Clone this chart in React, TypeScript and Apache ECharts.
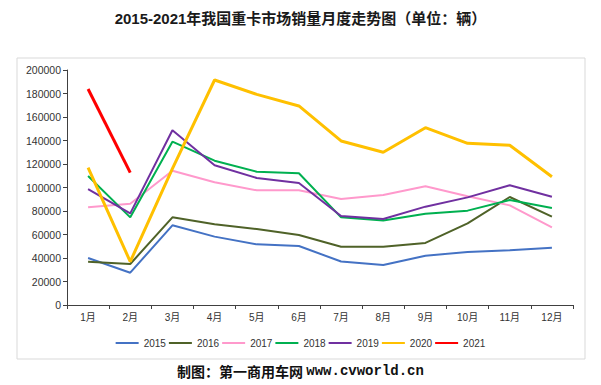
import React, { useEffect, useRef } from "react";
import * as echarts from "echarts";

const months = ["1月", "2月", "3月", "4月", "5月", "6月", "7月", "8月", "9月", "10月", "11月", "12月"];
const years = ["2015", "2016", "2017", "2018", "2019", "2020", "2021"];
const s2015 = [40000, 27500, 67800, 58200, 51600, 50200, 37000, 34000, 42000, 45100, 46500, 48800];
const s2016 = [36900, 34900, 74600, 68700, 64700, 59600, 49600, 49600, 52800, 69500, 91900, 75200];
const s2017 = [83100, 86200, 114300, 104400, 97600, 97600, 90200, 93600, 101000, 92500, 84800, 66100];
const s2018 = [109800, 74600, 139000, 122800, 113400, 112100, 74600, 72000, 77700, 80300, 89400, 82600];
const s2019 = [98700, 78000, 148700, 118900, 108100, 103800, 75700, 73200, 83700, 91600, 101900, 92200];
const s2020 = [116900, 36900, 116000, 191500, 179300, 169400, 139600, 130000, 150900, 137600, 135900, 109200];
const s2021 = [183800, 112600];
const seriesData = [s2015, s2016, s2017, s2018, s2019, s2020, s2021];
const colors = ["#4472c4", "#4f6228", "#ff99cc", "#00b050", "#7030a0", "#ffc000", "#ff0000"];
const widths = [2, 2, 2, 2, 2, 3, 3];

export default function App() {
  const ref = useRef<HTMLDivElement>(null);
  useEffect(() => {
    document.body.style.margin = "0";
    const chart = echarts.init(ref.current!, null, { renderer: "svg" });
    chart.setOption({
      animation: false,
      backgroundColor: "#ffffff",
      textStyle: { fontFamily: "Liberation Sans, Noto Sans CJK SC, sans-serif" },
      title: {
        text: "2015-2021年我国重卡市场销量月度走势图（单位：辆）",
        left: "center",
        top: 6,
        textStyle: { fontSize: 15, fontWeight: "bold", color: "#1a1a1a", fontFamily: "Liberation Sans, Noto Sans CJK SC, sans-serif" },
      },
      graphic: [
        { type: "rect", shape: { x: 17, y: 58, width: 568, height: 301 }, style: { fill: "none", stroke: "#d9d9d9", lineWidth: 1 }, z: -1 },
        {
          type: "text",
          left: "center",
          top: 364,
          style: {
            text: "{a|制图：第一商用车网 }{b|www.cvworld.cn}",
            rich: {
              a: { fontSize: 14, fontWeight: "bold", fill: "#111", fontFamily: "Noto Sans CJK SC, sans-serif" },
              b: { fontSize: 14, fontWeight: "bold", fill: "#111", fontFamily: "Liberation Mono, monospace" },
            },
          },
        },
      ],
      legend: {
        data: years,
        top: 333,
        left: "center",
        icon: "rect",
        itemWidth: 23,
        itemHeight: 2,
        itemGap: 3,
        textStyle: { fontSize: 10, color: "#333" },
      },
      grid: { left: 67, right: 28, top: 70, bottom: 80 },
      xAxis: {
        type: "category",
        data: months,
        boundaryGap: true,
        axisLine: { lineStyle: { color: "#404040", width: 1 } },
        axisTick: { show: true, alignWithLabel: false, length: 4, lineStyle: { color: "#404040" } },
        axisLabel: { fontSize: 10, color: "#333", margin: 7, interval: 0 },
      },
      yAxis: {
        type: "value",
        min: 0,
        max: 200000,
        interval: 20000,
        axisLine: { show: true, lineStyle: { color: "#404040", width: 1 } },
        axisTick: { show: true, length: 4, lineStyle: { color: "#404040" } },
        axisLabel: { fontSize: 10.5, color: "#333", margin: 6, formatter: (v: number) => String(v) },
        splitLine: { show: false },
      },
      series: years.map((y, i) => ({
        name: y,
        type: "line",
        data: seriesData[i],
        symbol: "none",
        color: colors[i],
        lineStyle: { color: colors[i], width: widths[i] },
        z: i === 6 ? 10 : 2 + i,
      })),
    });
    return () => chart.dispose();
  }, []);
  return <div ref={ref} style={{ width: 601, height: 385 }} />;
}
